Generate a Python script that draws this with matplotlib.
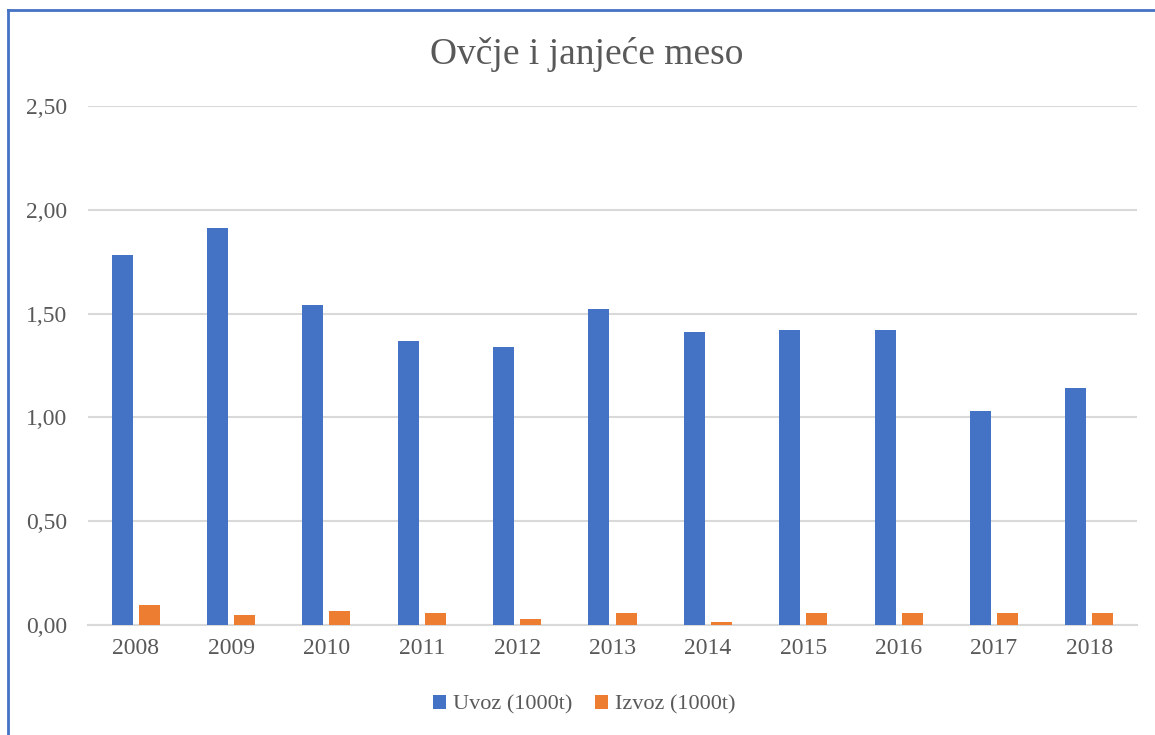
import numpy as np
import matplotlib
matplotlib.use("Agg")
import matplotlib.pyplot as plt
from matplotlib.lines import Line2D

years = ["2008", "2009", "2010", "2011", "2012", "2013", "2014", "2015", "2016", "2017", "2018"]
uvoz = [1.78, 1.91, 1.54, 1.37, 1.34, 1.52, 1.41, 1.42, 1.42, 1.03, 1.14]
izvoz = [0.096, 0.048, 0.067, 0.056, 0.027, 0.058, 0.013, 0.058, 0.058, 0.058, 0.058]

BLUE = "#4472C4"
ORANGE = "#ED7D31"
TXT = "#595959"
GRID = "#D9D9D9"

plt.rcParams["font.family"] = ["Liberation Serif", "DejaVu Serif"]

fig = plt.figure(figsize=(11.55, 7.35), dpi=100)
ax = fig.add_axes([88 / 1155, 1 - 625 / 735, (1137 - 88) / 1155, (625 - 106) / 735])

x = np.arange(len(years))
w = 0.22
ax.bar(x - 0.142, uvoz, w, color=BLUE, label="Uvoz (1000t)", zorder=3)
ax.bar(x + 0.142, izvoz, w, color=ORANGE, label="Izvoz (1000t)", zorder=3)

ax.set_xlim(-0.5, len(years) - 0.5)
ax.set_ylim(0, 2.5)
ax.set_yticks(np.arange(0, 2.51, 0.5))
ax.set_yticklabels([f"{v:.2f}".replace(".", ",") for v in np.arange(0, 2.51, 0.5)])
ax.set_xticks(x)
ax.set_xticklabels(years)
ax.tick_params(axis="both", length=0, labelsize=17, colors=TXT)
ax.tick_params(axis="y", pad=15)
ax.tick_params(axis="x", pad=9)
ax.grid(axis="y", color=GRID, lw=1.5, zorder=0)
for s in ["top", "right", "left"]:
    ax.spines[s].set_visible(False)
ax.spines["bottom"].set_color(GRID)
ax.spines["bottom"].set_linewidth(1.5)

fig.text(587 / 1155, 1 - 55 / 735, "Ovčje i janjeće meso", ha="center", va="center",
         fontsize=27, color=TXT)

fig.legend(loc="center", bbox_to_anchor=(584 / 1155, 1 - 705 / 735), ncol=2,
           frameon=False, fontsize=16, handlelength=0.6, handleheight=0.6,
           handletextpad=0.3, columnspacing=1.0, labelcolor=TXT)

# chart frame (only left and top edges are visible in the crop)
fig.add_artist(Line2D([8 / 1155, 8 / 1155], [0, 1 - 10 / 735], color=BLUE, lw=2,
                      transform=fig.transFigure))
fig.add_artist(Line2D([8 / 1155, 1], [1 - 10 / 735, 1 - 10 / 735], color=BLUE, lw=2,
                      transform=fig.transFigure))

fig.savefig("out.png", dpi=100)
